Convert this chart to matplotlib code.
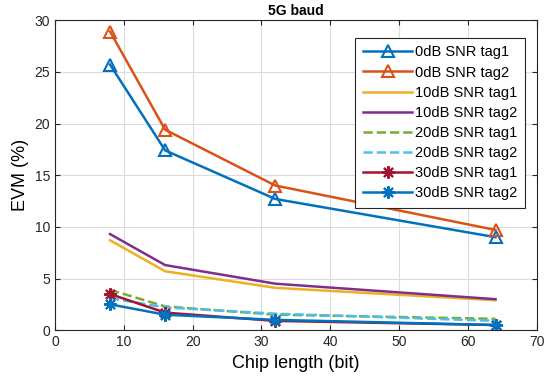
import matplotlib.pyplot as plt

chip = [8, 16, 32, 64]
snr0_tag1 = [25.7, 17.4, 12.7, 9.0]
snr0_tag2 = [28.9, 19.4, 14.0, 9.7]
snr10_tag1 = [8.7, 5.7, 4.1, 2.9]
snr10_tag2 = [9.3, 6.3, 4.5, 3.0]
snr20_tag1 = [3.9, 2.3, 1.5, 1.1]
snr20_tag2 = [3.1, 2.2, 1.6, 0.9]
snr30_tag1 = [3.5, 1.7, 0.9, 0.5]
snr30_tag2 = [2.5, 1.5, 1.0, 0.5]

plt.rcParams['font.family'] = ['Arial', 'Liberation Sans', 'DejaVu Sans']

fig = plt.figure(figsize=(5.5, 3.88), dpi=100)
ax = fig.add_axes([0.1, 0.149, 0.876, 0.799])

lw = 1.8
star = (8, 2, 0)  # matlab-like asterisk
ax.plot(chip, snr0_tag1, '-^', color='#0072BD', lw=lw, ms=8, mfc='none', mew=1.5, label='0dB SNR tag1')
ax.plot(chip, snr0_tag2, '-^', color='#D95319', lw=lw, ms=8, mfc='none', mew=1.5, label='0dB SNR tag2')
ax.plot(chip, snr10_tag1, '-', color='#EDB120', lw=lw, label='10dB SNR tag1')
ax.plot(chip, snr10_tag2, '-', color='#7E2F8E', lw=lw, label='10dB SNR tag2')
ax.plot(chip, snr20_tag1, '--', color='#77AC30', lw=lw, label='20dB SNR tag1')
ax.plot(chip, snr20_tag2, '--', color='#4DBEEE', lw=lw, label='20dB SNR tag2')
ax.plot(chip, snr30_tag1, '-', marker=star, color='#A2142F', lw=lw, ms=9, mew=1.5, label='30dB SNR tag1')
ax.plot(chip, snr30_tag2, '-', marker=star, color='#0072BD', lw=lw, ms=9, mew=1.5, label='30dB SNR tag2')

ax.set_xlim(0, 70)
ax.set_ylim(0, 30)
ax.set_xticks(range(0, 71, 10))
ax.set_yticks(range(0, 31, 5))
ax.grid(True, color='#dcdcdc', lw=0.8)
ax.tick_params(direction='in', top=True, right=True, labelsize=10, colors='#262626')
for s in ax.spines.values():
    s.set_color('#262626')

ax.set_title('5G baud', fontsize=10, fontweight='bold', pad=4)
ax.set_xlabel('Chip length (bit)', fontsize=13)
ax.set_ylabel('EVM (%)', fontsize=13)

leg = ax.legend(loc='upper right', bbox_to_anchor=(0.975, 0.942), borderaxespad=0,
                fontsize=10.5, fancybox=False, framealpha=1,
                edgecolor='#262626', handlelength=3.4, labelspacing=0.42,
                handletextpad=0.2, borderpad=0.5)
leg.get_frame().set_linewidth(0.8)

fig.savefig('out.png', dpi=100)
